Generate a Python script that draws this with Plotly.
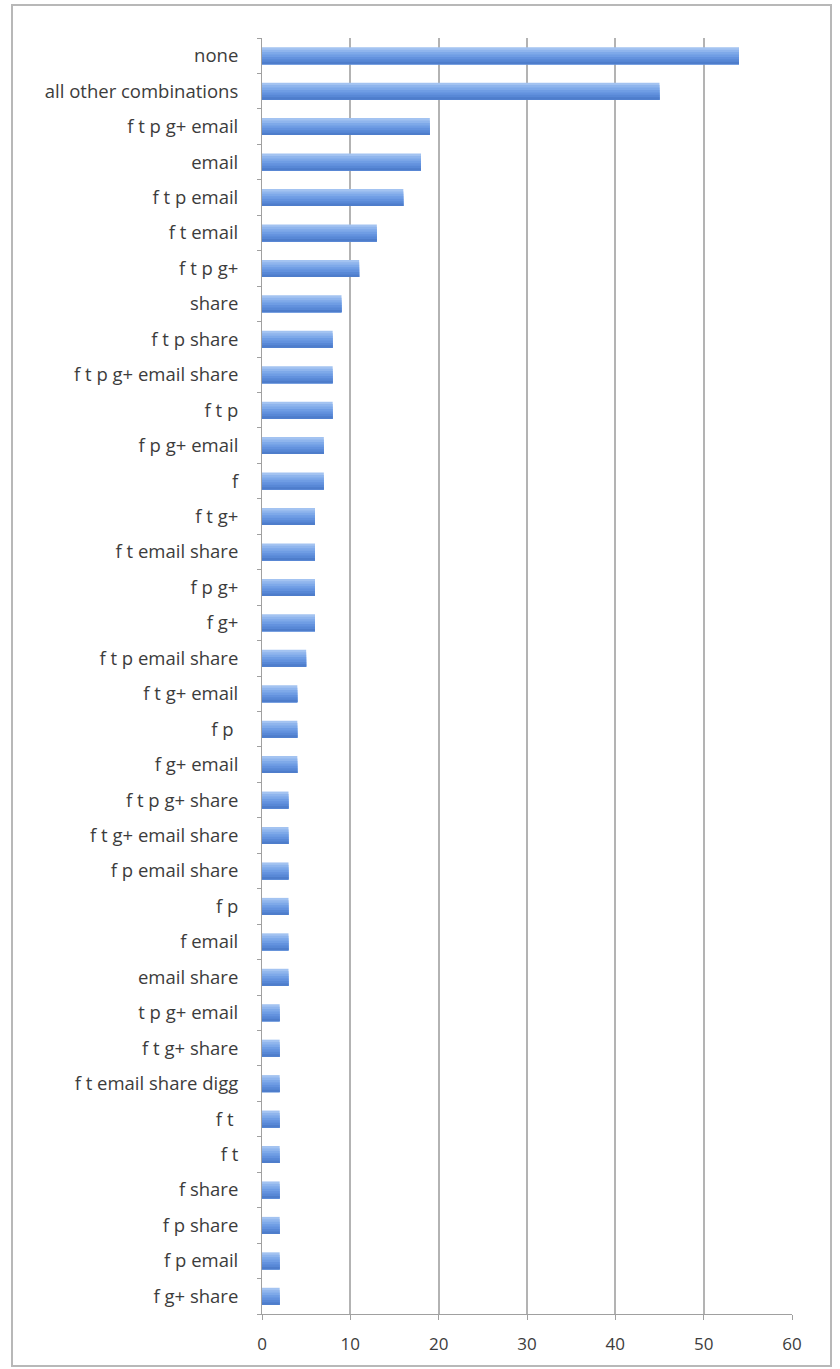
import plotly.graph_objects as go

# Sharing-option combinations, listed top to bottom
categories = [
    "none", "all other combinations", "f t p g+ email", "email", "f t p email",
    "f t email", "f t p g+", "share", "f t p share", "f t p g+ email share",
    "f t p", "f p g+ email", "f", "f t g+", "f t email share", "f p g+", "f g+",
    "f t p email share", "f t g+ email", "f p ", "f g+ email", "f t p g+ share",
    "f t g+ email share", "f p email share", "f p", "f email", "email share",
    "t p g+ email", "f t g+ share", "f t email share digg", "f t ", "f t",
    "f share", "f p share", "f p email", "f g+ share",
]
counts = [
    54, 45, 19, 18, 16,
    13, 11, 9, 8, 8,
    8, 7, 7, 6, 6, 6, 6,
    5, 4, 4, 4, 3,
    3, 3, 3, 3, 3,
    2, 2, 2, 2, 2,
    2, 2, 2, 2,
]
x_ticks = [0, 10, 20, 30, 40, 50, 60]

# vertical shading of each bar, light at the top to darker at the bottom
band_colors = ["#a3c3f1", "#8fb5ed", "#7ea9e9", "#6f9de4", "#6392de", "#5888d6", "#4e7dcb"]

W, H = 840, 1369
L, R, T, B = 262, 48, 38, 55
pw, ph = W - L - R, H - T - B

positions = list(range(len(categories)))
bar_w = 0.48
band_w = bar_w / len(band_colors)

fig = go.Figure()
# each layer runs from its own top edge down to the bar's bottom edge,
# so later (darker) layers cover the lower part of earlier ones without gaps
for i, c in enumerate(band_colors):
    top = -bar_w / 2 + i * band_w
    fig.add_trace(go.Bar(
        x=counts, y=positions, orientation="h",
        width=bar_w / 2 - top, offset=top,
        marker=dict(color=c, line=dict(width=0)),
        hoverinfo="x+text" if i == 0 else "skip",
        hovertext=categories,
    ))

# outer chart frame
def px_x(p):
    return (p - L) / pw

def px_y(p):
    return (H - B - p) / ph

fig.add_shape(
    type="rect", xref="paper", yref="paper",
    x0=px_x(12), x1=px_x(831), y0=px_y(1366), y1=px_y(5),
    line=dict(color="#b8b8b8", width=2), fillcolor="rgba(0,0,0,0)",
    layer="below",
)

fig.update_layout(
    width=W, height=H,
    margin=dict(l=L, r=R, t=T, b=B, pad=0),
    paper_bgcolor="white", plot_bgcolor="white",
    showlegend=False,
    barmode="overlay",
    font=dict(family="Open Sans", size=18, color="#3c3c3c"),
)
fig.update_xaxes(
    range=[0, 60],
    tickvals=x_ticks,
    ticktext=[str(v) for v in x_ticks],
    showgrid=True, gridcolor="#b3b3b3", gridwidth=2,
    zeroline=False,
    showline=True, linecolor="#a0a0a0", linewidth=1,
    ticks="outside", ticklen=5, tickcolor="#a0a0a0",
    ticklabelstandoff=10,
    tickfont=dict(size=17, color="#3c3c3c"),
    fixedrange=True,
)
fig.update_yaxes(
    range=[len(categories) - 0.5, -0.5],
    tickvals=positions,
    ticktext=categories,
    showgrid=False, zeroline=False,
    showline=True, linecolor="#a0a0a0", linewidth=1,
    ticks="", ticklabelstandoff=19,
    minor=dict(tickmode="linear", tick0=0.5, dtick=1, ticks="outside",
               ticklen=4, tickcolor="#a0a0a0", showgrid=False),
    tickfont=dict(size=18.5, color="#3c3c3c"),
    fixedrange=True,
)

fig.write_html("out.html")
